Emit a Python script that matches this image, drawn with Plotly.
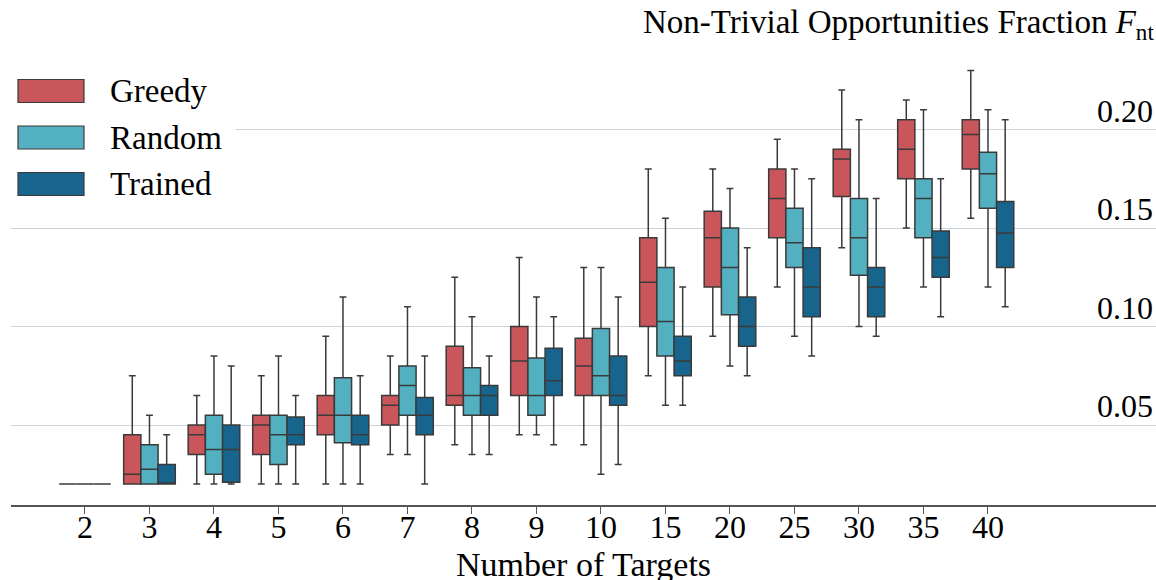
import plotly.graph_objects as go

# Number of targets (categories on the x axis)
targets = ["2", "3", "4", "5", "6", "7", "8", "9", "10", "15", "20", "25", "30", "35", "40"]

# Five-number summaries of the non-trivial opportunities fraction per strategy
greedy_low = [0.02, 0.02, 0.02, 0.02, 0.02, 0.035, 0.04, 0.045, 0.04, 0.075, 0.095, 0.12, 0.14, 0.15, 0.155]
greedy_q1 = [0.02, 0.02, 0.035, 0.035, 0.045, 0.05, 0.06, 0.065, 0.065, 0.10, 0.12, 0.145, 0.166, 0.175, 0.18]
greedy_med = [0.02, 0.025, 0.045, 0.05, 0.055, 0.06, 0.065, 0.0825, 0.08, 0.1225, 0.145, 0.165, 0.185, 0.19, 0.1975]
greedy_q3 = [0.02, 0.045, 0.05, 0.055, 0.065, 0.065, 0.09, 0.10, 0.094, 0.145, 0.1585, 0.18, 0.19, 0.205, 0.205]
greedy_high = [0.02, 0.075, 0.065, 0.075, 0.095, 0.085, 0.125, 0.135, 0.13, 0.18, 0.18, 0.195, 0.22, 0.215, 0.23]

random_low = [0.02, 0.02, 0.02, 0.02, 0.02, 0.035, 0.035, 0.045, 0.025, 0.06, 0.08, 0.095, 0.10, 0.12, 0.12]
random_q1 = [0.02, 0.02, 0.025, 0.03, 0.041, 0.055, 0.055, 0.055, 0.065, 0.085, 0.106, 0.13, 0.126, 0.145, 0.16]
random_med = [0.02, 0.0275, 0.0375, 0.045, 0.055, 0.07, 0.065, 0.065, 0.075, 0.1025, 0.13, 0.1425, 0.145, 0.165, 0.1775]
random_q3 = [0.02, 0.04, 0.055, 0.055, 0.074, 0.08, 0.079, 0.084, 0.099, 0.13, 0.15, 0.16, 0.165, 0.175, 0.1885]
random_high = [0.02, 0.055, 0.085, 0.085, 0.115, 0.11, 0.105, 0.115, 0.13, 0.155, 0.17, 0.18, 0.205, 0.21, 0.21]

trained_low = [0.02, 0.02, 0.02, 0.02, 0.02, 0.02, 0.035, 0.04, 0.03, 0.06, 0.075, 0.085, 0.095, 0.105, 0.11]
trained_q1 = [0.02, 0.02, 0.021, 0.04, 0.04, 0.045, 0.055, 0.065, 0.06, 0.075, 0.09, 0.105, 0.105, 0.125, 0.13]
trained_med = [0.02, 0.02, 0.0375, 0.045, 0.045, 0.055, 0.065, 0.0725, 0.065, 0.0825, 0.10, 0.12, 0.12, 0.135, 0.1475]
trained_q3 = [0.02, 0.03, 0.05, 0.054, 0.055, 0.064, 0.07, 0.089, 0.085, 0.095, 0.115, 0.14, 0.13, 0.1485, 0.1635]
trained_high = [0.02, 0.045, 0.08, 0.065, 0.075, 0.085, 0.085, 0.105, 0.115, 0.12, 0.14, 0.175, 0.165, 0.175, 0.205]

series_names = ["Greedy", "Random", "Trained"]
series_colors = ["#c8565b", "#52b0c1", "#17648d"]
y_ticks = [0.05, 0.10, 0.15, 0.20]

stats = [
    (greedy_low, greedy_q1, greedy_med, greedy_q3, greedy_high),
    (random_low, random_q1, random_med, random_q3, random_high),
    (trained_low, trained_q1, trained_med, trained_q3, trained_high),
]

FONT = "Liberation Serif, Times New Roman, serif"
W, H = 1156, 580
ML, MR, MT, MB = 11, 0, 0, 75
PW, PH = W - ML - MR, H - MT - MB


def px_x(p):
    return (p - ML) / PW


def px_y(p):
    return 1 - (p - MT) / PH


fig = go.Figure()
for name, color, (lo, q1, med, q3, hi) in zip(series_names, series_colors, stats):
    fig.add_trace(go.Box(
        name=name,
        x=targets,
        lowerfence=lo, q1=q1, median=med, q3=q3, upperfence=hi,
        fillcolor=color,
        line=dict(color="#3a3a3a", width=1.5),
        whiskerwidth=0.4,
        showlegend=False,
    ))

# Legend drawn as large colour patches with a white backing
shapes = [dict(type="rect", xref="paper", yref="paper",
               x0=px_x(0), x1=px_x(236), y0=px_y(212), y1=px_y(62),
               fillcolor="white", line=dict(width=0), layer="above")]
annotations = []
for i, (name, color) in enumerate(zip(series_names, series_colors)):
    cy = 91 + i * 46.5
    shapes.append(dict(type="rect", xref="paper", yref="paper",
                       x0=px_x(18), x1=px_x(84), y0=px_y(cy + 11.5), y1=px_y(cy - 11.5),
                       fillcolor=color, line=dict(color="#3a3a3a", width=1.2), layer="above"))
    annotations.append(dict(text=name, xref="paper", yref="paper",
                            x=px_x(108), y=px_y(cy), xanchor="left", yanchor="middle",
                            showarrow=False, font=dict(family=FONT, size=33, color="black")))

annotations.append(dict(text="Non-Trivial Opportunities Fraction <i>F</i><sub>nt</sub>",
                        xref="paper", yref="paper", x=1, y=px_y(24),
                        xanchor="right", yanchor="middle", showarrow=False,
                        font=dict(family=FONT, size=33, color="black")))

annotations.append(dict(text="Number of Targets", xref="paper", yref="paper",
                        x=0.5, y=px_y(564), xanchor="center", yanchor="middle",
                        showarrow=False, font=dict(family=FONT, size=34, color="black")))

fig.update_layout(
    width=W, height=H,
    margin=dict(l=ML, r=MR, t=MT, b=MB, autoexpand=False),
    paper_bgcolor="white", plot_bgcolor="white",
    boxmode="group", boxgap=0.2, boxgroupgap=0,
    font=dict(family=FONT, size=32, color="black"),
    shapes=shapes, annotations=annotations,
    xaxis=dict(
        type="category", categoryorder="array", categoryarray=targets,
        range=[-1.147, 16.605], automargin=False,
        showline=True, linecolor="#555555", linewidth=1.5,
        ticks="outside", ticklen=7, tickwidth=1.2, tickcolor="#555555",
        showgrid=False, zeroline=False,
        tickfont=dict(family=FONT, size=32, color="black"),
        ticklabelstandoff=-14,
    ),
    yaxis=dict(
        range=[0.00939, 0.26574], automargin=False,
        side="right", ticklabelposition="inside",
        tickvals=y_ticks, ticktext=[f"{v:.2f}" for v in y_ticks],
        ticks="", showline=False, zeroline=False,
        showgrid=True, gridcolor="#c8d3dc", gridwidth=1.2,
        tickfont=dict(family=FONT, size=32, color="black"),
        ticklabelshift=-19,
    ),
)

fig.write_html("out.html")
